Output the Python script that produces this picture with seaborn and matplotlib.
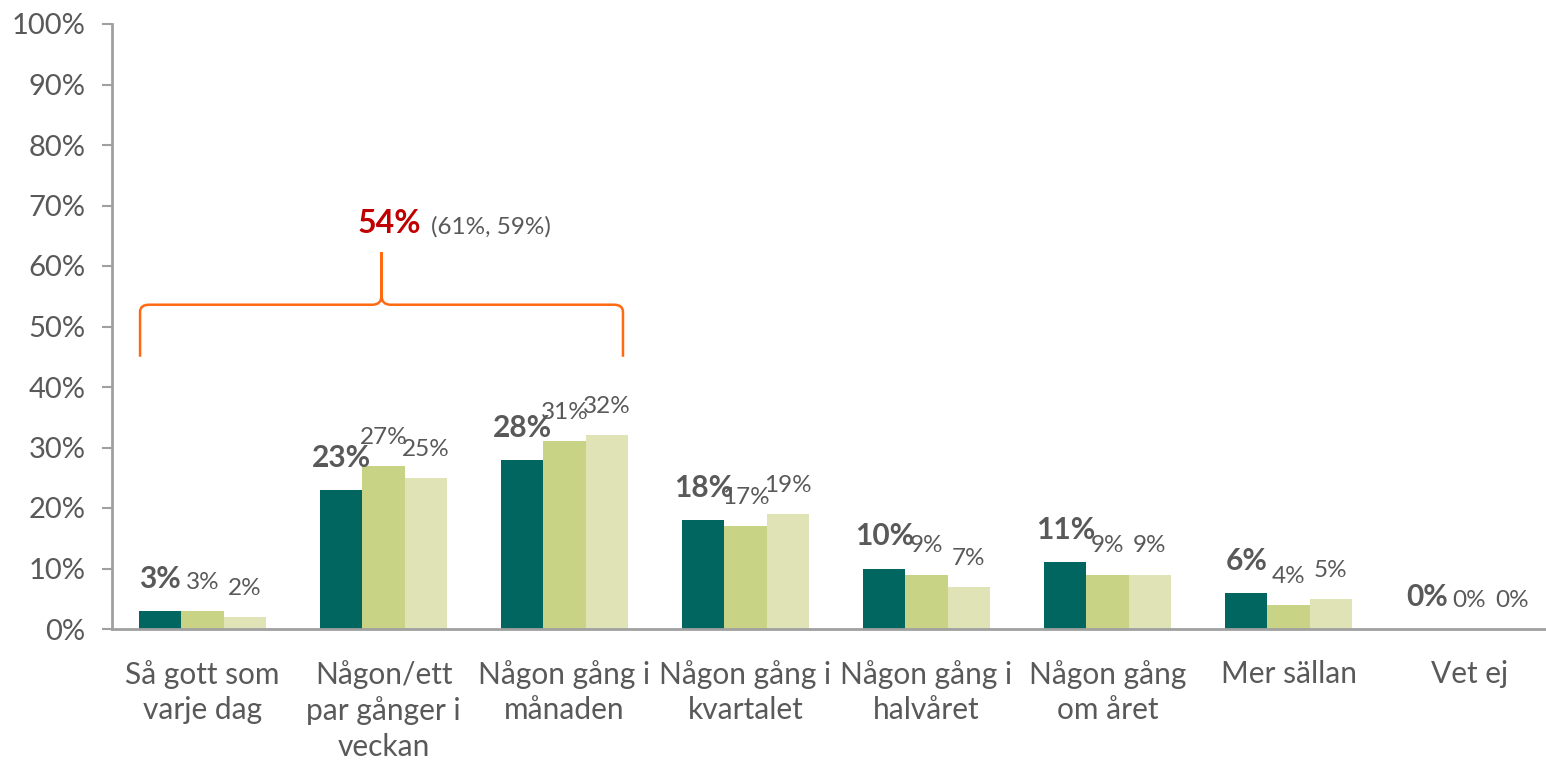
import seaborn as sns
import matplotlib.pyplot as plt
import pandas as pd
import numpy as np
from matplotlib.path import Path
from matplotlib.patches import PathPatch

categories = ['Så gott som\nvarje dag', 'Någon/ett\npar gånger i\nveckan', 'Någon gång i\nmånaden',
              'Någon gång i\nkvartalet', 'Någon gång i\nhalvåret', 'Någon gång\nom året',
              'Mer sällan', 'Vet ej']
series = ['Serie 1', 'Serie 2', 'Serie 3']
values_1 = [3, 23, 28, 18, 10, 11, 6, 0]
values_2 = [3, 27, 31, 17, 9, 9, 4, 0]
values_3 = [2, 25, 32, 19, 7, 9, 5, 0]
# the bracket groups the first three answers
bracket_groups = [0, 1, 2]

colors = ['#00665F', '#C9D385', '#DFE3B6']
text_col = '#595959'
axis_col = '#A0A0A0'

df = pd.DataFrame({
    'kategori': categories * 3,
    'serie': np.repeat(series, len(categories)),
    'andel': values_1 + values_2 + values_3,
})

sns.set_style('white')
plt.rcParams['font.family'] = ['Lato', 'DejaVu Sans']

fig = plt.figure(figsize=(15.46, 7.6), dpi=100)
ax = fig.add_axes([112 / 1546, 131 / 760, 1448 / 1546, 605 / 760])

sns.barplot(data=df, x='kategori', y='andel', hue='serie', palette=colors,
            width=0.7, saturation=1, order=categories, ax=ax, legend=False,
            linewidth=0)

# value labels above the bars
for i, cont in enumerate(ax.containers):
    ax.bar_label(cont, fmt='{:.0f}%', padding=13, color=text_col,
                 fontsize=21.5 if i == 0 else 17.5,
                 fontweight='bold' if i == 0 else 'normal')

ax.set_xlim(-0.5, len(categories) - 0.5)
ax.set_ylim(0, 100)
ax.set_yticks(np.arange(0, 101, 10))
ax.set_yticklabels([f'{v}%' for v in range(0, 101, 10)])
ax.set_xlabel('')
ax.set_ylabel('')

ax.set_xticks(np.arange(len(categories)))
ax.set_xticklabels(categories, linespacing=1.33)
ax.set_xticks(np.arange(-0.5, len(categories), 1), minor=True)
ax.tick_params(axis='x', which='major', length=0, pad=22, labelsize=21.5, labelcolor=text_col)
ax.tick_params(axis='x', which='minor', length=7, width=1.5, color=axis_col, direction='out')
ax.tick_params(axis='y', length=7, width=1.5, color=axis_col, pad=12, labelsize=21,
               labelcolor=text_col, left=True, direction='out')

for side in ['top', 'right']:
    ax.spines[side].set_visible(False)
for side in ['left', 'bottom']:
    ax.spines[side].set_color(axis_col)
    ax.spines[side].set_linewidth(2)

# curly bracket over the first groups
tot = [sum(v[g] for g in bracket_groups) for v in (values_1, values_2, values_3)]
x0 = bracket_groups[0] - 0.345
x1 = bracket_groups[-1] + 0.323
xm = (x0 + x1) / 2
yb, yh, yp = 45.0, 53.6, 62.3
r = 0.05
verts = [(x0, yb), (x0, yh - 1.2), (x0, yh), (x0 + r, yh),
         (xm - r, yh), (xm, yh), (xm, yh + 1.5), (xm, yp),
         (xm, yh + 1.5), (xm, yh), (xm + r, yh),
         (x1 - r, yh), (x1, yh), (x1, yh - 1.2), (x1, yb)]
codes = [Path.MOVETO, Path.LINETO, Path.CURVE3, Path.CURVE3,
         Path.LINETO, Path.CURVE3, Path.CURVE3, Path.LINETO,
         Path.LINETO, Path.CURVE3, Path.CURVE3,
         Path.LINETO, Path.CURVE3, Path.CURVE3, Path.LINETO]
ax.add_patch(PathPatch(Path(verts, codes), fill=False, edgecolor='#FF6A10', lw=1.8,
                       clip_on=False))

t = ax.text(xm - 0.13, 65.5, f'{tot[0]}%', color='#C00000', fontsize=23,
            fontweight='bold', ha='left', va='baseline')
ax.annotate(f'({tot[1]}%, {tot[2]}%)', xy=(1, 0), xycoords=t, xytext=(7, 0),
            textcoords='offset points', color=text_col, fontsize=17.5, va='bottom')

fig.savefig('out.png', dpi=100)
